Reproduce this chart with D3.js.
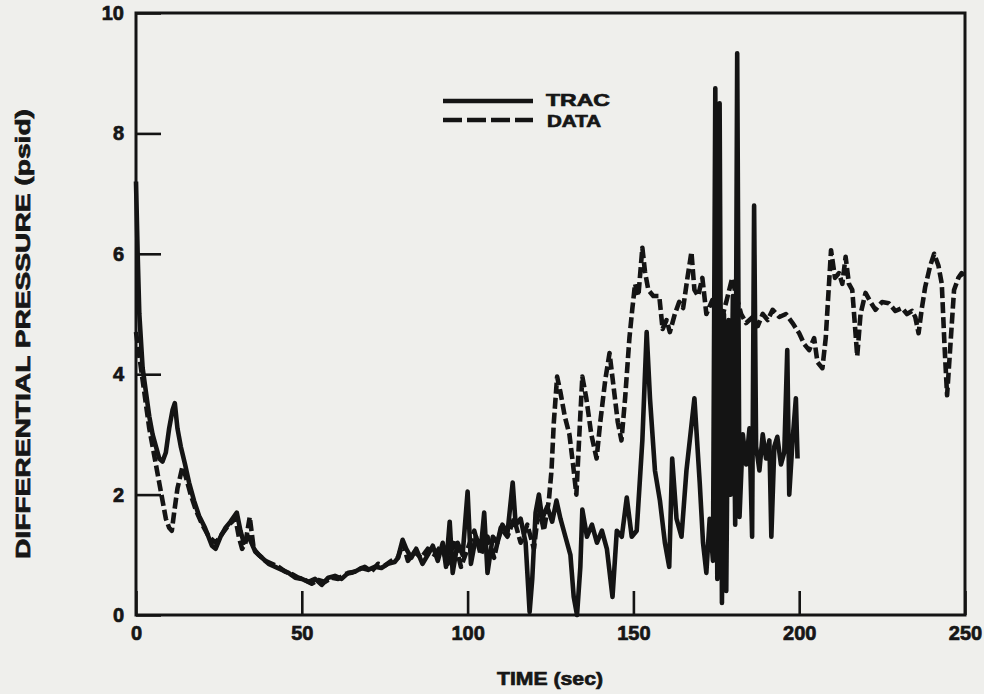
<!DOCTYPE html>
<html>
<head>
<meta charset="utf-8">
<script src="https://cdn.jsdelivr.net/npm/d3@7/dist/d3.min.js"></script>
<style>
  html, body { margin: 0; padding: 0; background: #efefec; }
  svg { display: block; }
  text { font-family: "Liberation Sans", Arial, Helvetica, sans-serif; font-weight: bold; fill: #161616;
         stroke: #161616; stroke-width: 0.7px; }
</style>
</head>
<body>
<svg id="chart" width="984" height="694"></svg>
<script>
// ---- data ----
const xTicks = [0, 50, 100, 150, 200, 250];
const yTicks = [0, 2, 4, 6, 8, 10];
const seriesNames = ["TRAC", "DATA"];

const tracTime = [0, 0.5, 1, 2, 3, 4, 5, 6, 7, 8, 9, 10, 11, 11.7, 12.5, 13.5, 14.8, 16, 17.5, 19, 20.8, 22.9, 24, 25.5, 27, 28.5, 30.4, 31.5, 32.5, 34, 36, 38, 40, 42, 44, 46, 48, 50, 52, 54, 56, 58, 60, 62, 64, 66, 68, 70, 72, 74, 76, 78, 79, 80.4, 81.5, 83, 84.5, 86.4, 88, 89.5, 91, 92.5, 93.5, 94.6, 95.5, 97, 98.5, 100, 101, 102.5, 104, 105, 106, 107.6, 109, 110.5, 112, 113.6, 114.5, 116, 117.5, 118.7, 119.5, 120.5, 121.5, 122.5, 124, 125.5, 126.8, 128, 129.5, 131, 132, 133, 134, 134.6, 136, 137.5, 139, 140.5, 142, 143.7, 145, 146.5, 148, 149.5, 151, 152.7, 154, 155, 156.5, 158, 159.5, 160.8, 161.7, 163, 164.5, 166, 167.2, 168.4, 170, 171, 172, 173, 174, 174.7, 175.3, 176, 176.7, 177.3, 178, 178.7, 179.3, 180, 180.7, 181.3, 182, 183, 184, 185, 185.8, 186.4, 187, 188, 189, 190, 191, 191.6, 192.5, 193.4, 194.5, 195.5, 196.4, 197, 198, 199, 199.5];
const tracValue = [7.2, 6.0, 5.0, 4.1, 3.7, 3.3, 3.0, 2.8, 2.6, 2.55, 2.7, 3.1, 3.4, 3.52, 3.1, 2.8, 2.5, 2.2, 1.9, 1.65, 1.45, 1.15, 1.1, 1.3, 1.45, 1.55, 1.7, 1.4, 1.2, 1.3, 1.05, 0.95, 0.85, 0.8, 0.75, 0.7, 0.62, 0.6, 0.55, 0.6, 0.5, 0.62, 0.65, 0.6, 0.7, 0.72, 0.78, 0.75, 0.8, 0.78, 0.85, 0.88, 0.95, 1.25, 1.1, 0.95, 1.1, 0.85, 1.0, 1.15, 0.9, 1.2, 0.8, 1.55, 0.7, 1.2, 1.0, 2.05, 0.85, 1.3, 1.1, 1.7, 0.7, 1.3, 1.2, 1.5, 1.35, 2.2, 1.5, 1.6, 1.2, 0.05, 0.6, 1.7, 2.0, 1.6, 1.8, 1.55, 1.9, 1.6, 1.3, 1.0, 0.3, 0.0, 0.8, 1.75, 1.3, 1.5, 1.2, 1.4, 1.1, 0.3, 1.4, 1.3, 1.95, 1.3, 1.4, 2.9, 4.7, 3.6, 2.4, 1.9, 1.2, 0.8, 2.6, 1.6, 1.3, 2.4, 3.0, 3.6, 2.2, 1.2, 0.7, 1.6, 0.9, 8.75, 0.6, 8.5, 0.2, 5.0, 0.4, 4.9, 2.0, 5.3, 1.5, 9.33, 1.63, 3.0, 2.5, 3.1, 1.3, 6.8, 2.8, 2.4, 3.0, 2.6, 2.9, 1.3, 2.8, 2.96, 2.5, 2.7, 4.4, 2.0, 2.9, 3.6, 2.6];

const dataTime = [0, 1, 2, 3, 4, 5, 6, 7, 8, 9, 10, 10.8, 11.5, 12.5, 14, 15, 16.5, 18, 20, 22, 24, 26, 28, 30, 31, 32, 33, 34.3, 35.5, 37, 39, 41, 43, 45, 47, 49, 51, 53, 55, 57, 59, 61, 63, 65, 67, 69, 71, 73, 75, 77, 79, 80.5, 82, 84, 86, 88, 90, 92, 94, 96, 98, 100, 102, 104, 106, 108, 110, 112, 114, 116, 118, 120, 121.5, 123, 124.5, 125.3, 126, 127, 128, 129.3, 130.7, 131.8, 132.8, 133.7, 134.6, 135.8, 137.3, 138.9, 140, 141.5, 142.8, 144, 145.3, 146.4, 147.5, 148.8, 149.7, 150.5, 151.5, 152.7, 153.5, 154.5, 156, 157.8, 158.8, 160, 161, 162.5, 163.8, 165, 166.3, 167.5, 168.4, 169.5, 170.8, 172, 173.8, 175, 176.5, 178, 179.8, 181, 182.5, 184, 186, 187.5, 189, 190.5, 192, 194, 196, 198, 200, 201.5, 203, 204.5, 205.5, 207, 208, 209.6, 210.8, 212, 213, 214, 215, 216, 217.5, 218.5, 220, 221.5, 223, 225, 227, 229, 231, 232.5, 234, 235, 236, 237, 238, 239.5, 240.7, 242, 243, 243.8, 244.6, 245.5, 246.7, 248, 249, 250];
const dataValue = [4.7, 4.3, 3.9, 3.5, 3.1, 2.8, 2.5, 2.2, 1.9, 1.6, 1.45, 1.4, 1.7, 2.1, 2.46, 2.3, 2.0, 1.75, 1.5, 1.3, 1.2, 1.35, 1.5, 1.6, 1.3, 1.1, 1.2, 1.63, 1.1, 1.0, 0.9, 0.85, 0.8, 0.72, 0.68, 0.62, 0.58, 0.52, 0.58, 0.55, 0.62, 0.6, 0.68, 0.7, 0.75, 0.8, 0.72, 0.85, 0.82, 0.9, 0.95, 1.2, 0.9, 1.05, 0.95, 1.1, 1.0, 1.15, 0.85, 1.25, 0.8, 1.1, 1.4, 1.0, 1.3, 0.95, 1.45, 1.3, 1.6, 1.2, 1.5, 1.1, 1.8, 1.4, 1.9, 2.4, 3.2, 3.96, 3.7, 3.3, 3.0, 2.5, 2.0, 3.0, 3.96, 3.6, 3.0, 2.6, 3.2, 3.9, 4.35, 3.8, 3.2, 2.9, 3.6, 4.6, 5.1, 5.5, 5.3, 6.1, 5.7, 5.4, 5.3, 5.3, 4.75, 4.9, 4.7, 5.0, 5.2, 5.1, 5.6, 6.03, 5.4, 5.3, 5.6, 5.0, 5.23, 5.1, 4.9, 5.2, 5.6, 5.3, 5.0, 4.85, 4.95, 4.8, 5.0, 4.9, 5.07, 4.95, 5.0, 4.85, 4.68, 4.5, 4.4, 4.6, 4.2, 4.1, 4.6, 6.06, 5.6, 5.68, 5.5, 5.95, 5.5, 5.4, 4.3, 5.0, 5.35, 5.2, 5.07, 5.2, 5.18, 5.05, 5.1, 5.0, 5.05, 4.95, 4.68, 5.1, 5.45, 5.8, 6.0, 5.8, 5.5, 4.5, 3.65, 4.4, 5.4, 5.6, 5.68, 5.6];

// ---- layout ----
const svg = d3.select("#chart");
const plotLeft = 136, plotRight = 965, plotTop = 13, plotBottom = 615;
const ink = "#141414";

const x = d3.scaleLinear().domain([0, 250]).range([plotLeft, plotRight]);
const y = d3.scaleLinear().domain([0, 10]).range([plotBottom, plotTop]);

// axes with inward ticks
const gx = svg.append("g").attr("transform", `translate(0,${plotBottom})`)
  .call(d3.axisBottom(x).tickValues(xTicks).tickFormat(d3.format("d"))
    .tickSizeInner(-24).tickSizeOuter(0).tickPadding(11));
const gy = svg.append("g").attr("transform", `translate(${plotLeft},0)`)
  .call(d3.axisLeft(y).tickValues(yTicks).tickFormat(d3.format("d"))
    .tickSizeInner(-25).tickSizeOuter(0).tickPadding(12));
[gx, gy].forEach(g => {
  g.select(".domain").remove();
  g.selectAll(".tick line").attr("stroke", ink).attr("stroke-width", 2.6);
  g.selectAll(".tick text").attr("font-size", 20).attr("fill", ink)
    .style("font-family", '"Liberation Sans", Arial, sans-serif').style("font-weight", "bold");
});

// frame
svg.append("rect").attr("x", plotLeft).attr("y", plotTop)
  .attr("width", plotRight - plotLeft).attr("height", plotBottom - plotTop)
  .attr("fill", "none").attr("stroke", ink).attr("stroke-width", 3);

// series
const line = d3.line().x(d => x(d[0])).y(d => y(d[1]));
const trac = tracTime.map((t, i) => [t, tracValue[i]]);
const dataPts = dataTime.map((t, i) => [t, dataValue[i]]);

svg.append("path").datum(dataPts).attr("d", line)
  .attr("fill", "none").attr("stroke", ink).attr("stroke-width", 4.6)
  .attr("stroke-dasharray", "11,4").attr("stroke-linejoin", "round");
svg.append("path").datum(trac).attr("d", line)
  .attr("fill", "none").attr("stroke", ink).attr("stroke-width", 4.6)
  .attr("stroke-linejoin", "round");

// legend
const lg = svg.append("g");
lg.append("line").attr("x1", 443).attr("x2", 533).attr("y1", 101).attr("y2", 101)
  .attr("stroke", ink).attr("stroke-width", 4.5);
lg.append("line").attr("x1", 443).attr("x2", 533).attr("y1", 120).attr("y2", 120)
  .attr("stroke", ink).attr("stroke-width", 4.5).attr("stroke-dasharray", "19,5");
lg.append("text").attr("x", 546).attr("y", 106).attr("font-size", 17)
  .attr("textLength", 64).attr("lengthAdjust", "spacingAndGlyphs").text(seriesNames[0]);
lg.append("text").attr("x", 547).attr("y", 127).attr("font-size", 17)
  .attr("textLength", 54).attr("lengthAdjust", "spacingAndGlyphs").text(seriesNames[1]);

// axis titles
svg.append("text").attr("x", 550).attr("y", 685).attr("text-anchor", "middle")
  .attr("font-size", 19).attr("textLength", 106).attr("lengthAdjust", "spacingAndGlyphs")
  .text("TIME (sec)");
svg.append("text").attr("transform", "translate(30,334) rotate(-90)")
  .attr("text-anchor", "middle").attr("font-size", 20)
  .attr("textLength", 450).attr("lengthAdjust", "spacingAndGlyphs")
  .text("DIFFERENTIAL PRESSURE (psid)");
</script>
</body>
</html>
